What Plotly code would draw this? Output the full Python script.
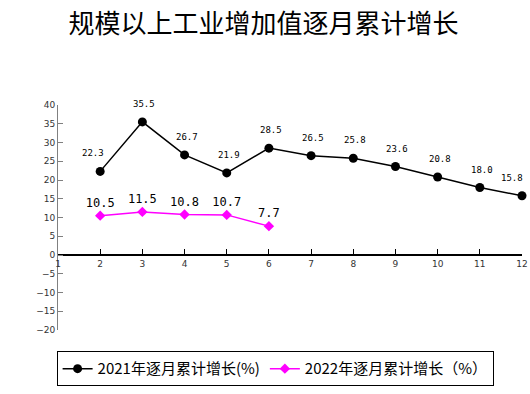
import plotly.graph_objects as go

months = list(range(1, 13))
months_2021 = [2, 3, 4, 5, 6, 7, 8, 9, 10, 11, 12]
values_2021 = [22.3, 35.5, 26.7, 21.9, 28.5, 26.5, 25.8, 23.6, 20.8, 18.0, 15.8]
months_2022 = [2, 3, 4, 5, 6]
values_2022 = [10.5, 11.5, 10.8, 10.7, 7.7]
y_ticks = [40, 35, 30, 25, 20, 15, 10, 5, 0, -5, -10, -15, -20]

title = "规模以上工业增加值逐月累计增长"
name_2021 = "2021年逐月累计增长(%)"
name_2022 = "2022年逐月累计增长（%）"

cjk = "Noto Sans CJK SC"
mono = "DejaVu Sans Mono"

fig = go.Figure()
fig.add_trace(go.Scatter(
    x=months_2021, y=values_2021, name=name_2021,
    mode="lines+markers",
    line=dict(color="#000000", width=1.5),
    marker=dict(symbol="circle", size=9, color="#000000"),
    cliponaxis=False,
))
fig.add_trace(go.Scatter(
    x=months_2022, y=values_2022, name=name_2022,
    mode="lines+markers+text",
    text=[f"{v:.1f}" for v in values_2022],
    textposition="top center",
    textfont=dict(family=mono, size=12, color="#000000"),
    line=dict(color="#FF00FF", width=1.5),
    marker=dict(symbol="diamond", size=8, color="#FF00FF"),
    cliponaxis=False,
))

annotations = []
n = len(months_2021)
for i, (m, v) in enumerate(zip(months_2021, values_2021)):
    xshift = 2
    xanchor = "center"
    if i == 0:
        xshift = -7
    if i == n - 1:
        xanchor = "right"
        xshift = 3
    annotations.append(dict(x=m, y=v, text=f"{v:.1f}", showarrow=False,
                            xanchor=xanchor, yanchor="middle", xshift=xshift, yshift=18,
                            font=dict(family=mono, size=9, color="#000000")))

fig.update_layout(
    width=530, height=394,
    margin=dict(l=58, r=8, t=105, b=64, autoexpand=False),
    paper_bgcolor="white", plot_bgcolor="white",
    title=dict(text=title, x=0.497, xanchor="center", y=0.94, yanchor="middle",
               font=dict(family=cjk, size=26, color="#000000")),
    showlegend=True,
    annotations=annotations,
    legend=dict(orientation="h", x=-0.003, xanchor="left", y=-0.095, yanchor="top",
                bordercolor="#000000", borderwidth=1, bgcolor="white",
                font=dict(family=cjk, size=15, color="#000000"),
                itemwidth=30, tracegroupgap=0),
    xaxis=dict(range=[1, 12], tickvals=months, ticktext=[str(m) for m in months],
               anchor="free", position=1/3, showline=True, linecolor="#000000", linewidth=1.5,
               ticks="inside", ticklen=5, tickcolor="#000000", showgrid=False, zeroline=False,
               automargin=False,
               tickfont=dict(family="DejaVu Sans", size=9, color="#333333")),
    yaxis=dict(range=[-20, 40], tickvals=y_ticks, showline=True, linecolor="#808080", linewidth=1,
               ticks="inside", ticklen=5, tickcolor="#808080", showgrid=False, zeroline=False,
               automargin=False,
               tickfont=dict(family="DejaVu Sans", size=9, color="#333333")),
)

fig.write_html("out.html", config={"displayModeBar": False},
               post_script="document.body.style.margin='0';document.body.style.overflow='hidden';")
